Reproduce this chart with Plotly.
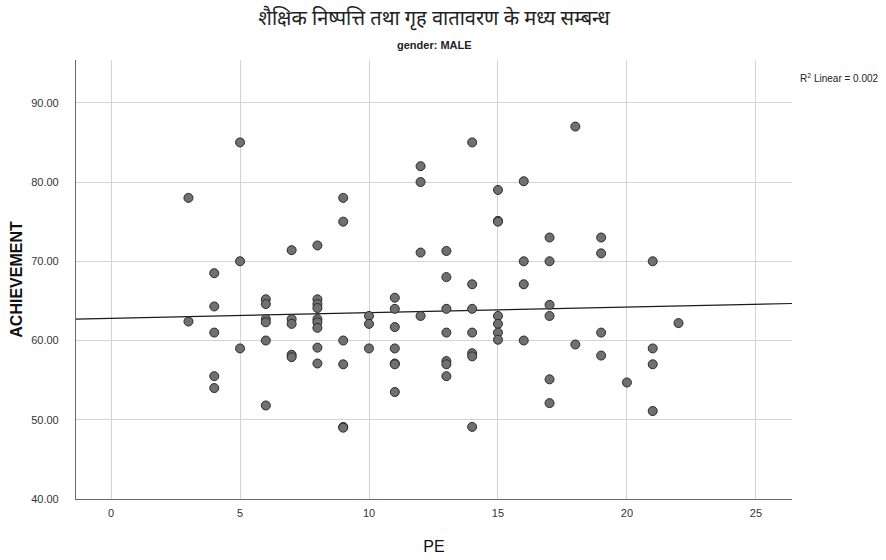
import plotly.graph_objects as go

title_text = "शैक्षिक निष्पत्ति तथा गृह वातावरण के मध्य सम्बन्ध"
subtitle_text = "gender: MALE"
x_title = "PE"
y_title = "ACHIEVEMENT"
r2_text = "R<sup>2</sup> Linear = 0.002"

pe = [3, 3,
      4, 4, 4, 4, 4,
      5, 5, 5,
      6, 6, 6, 6, 6, 6,
      7, 7, 7, 7, 7,
      8, 8, 8, 8, 8, 8, 8, 8, 8,
      9, 9, 9, 9, 9, 9,
      10, 10, 10,
      11, 11, 11, 11, 11, 11, 11,
      12, 12, 12, 12,
      13, 13, 13, 13, 13, 13, 13,
      14, 14, 14, 14, 14, 14, 14,
      15, 15, 15, 15, 15, 15, 15,
      16, 16, 16, 16,
      17, 17, 17, 17, 17, 17,
      18, 18,
      19, 19, 19, 19,
      20,
      21, 21, 21, 21,
      22]
achievement = [78.0, 62.4,
               68.5, 64.3, 61.0, 55.5, 54.0,
               85.0, 70.0, 59.0,
               65.2, 64.6, 62.7, 62.3, 60.0, 51.8,
               71.4, 62.7, 62.1, 58.2, 57.9,
               72.0, 65.2, 64.6, 64.1, 62.7, 62.3, 61.6, 59.1, 57.1,
               78.0, 75.0, 60.0, 57.0, 49.1, 49.0,
               63.1, 62.1, 59.0,
               65.4, 64.0, 61.7, 59.0, 57.1, 57.0, 53.5,
               82.0, 80.0, 71.1, 63.1,
               71.3, 68.0, 64.0, 61.0, 57.4, 57.0, 55.5,
               85.0, 67.1, 64.0, 61.0, 58.4, 58.0, 49.1,
               79.0, 75.1, 75.0, 63.1, 62.1, 61.0, 60.1,
               80.1, 70.0, 67.1, 60.0,
               73.0, 70.0, 64.5, 63.1, 55.1, 52.1,
               87.0, 59.5,
               73.0, 71.0, 61.0, 58.1,
               54.7,
               70.0, 59.0, 57.0, 51.1,
               62.2]

fit_intercept = 62.8
fit_slope = 0.071

x_ticks = [0, 5, 10, 15, 20, 25]
y_ticks = [40, 50, 60, 70, 80, 90]
y_tick_labels = ["40.00", "50.00", "60.00", "70.00", "80.00", "90.00"]

x_range = [-1.36, 26.4]
y_range = [40, 95.4]

fit_x = x_range
fit_y = [fit_intercept + fit_slope * v for v in fit_x]

narrow = "Liberation Sans Narrow, Arial Narrow, Liberation Sans, Arial, sans-serif"

fig = go.Figure()
fig.add_trace(go.Scatter(
    x=fit_x, y=fit_y, mode="lines",
    line=dict(color="#1a1a1a", width=1.2),
    hoverinfo="skip", showlegend=False,
))
fig.add_trace(go.Scatter(
    x=pe, y=achievement, mode="markers",
    marker=dict(size=9, color="#707070", line=dict(color="#2b2b2b", width=1)),
    showlegend=False,
))

fig.update_layout(
    width=886, height=560,
    margin=dict(l=76, r=94, t=60, b=61),
    paper_bgcolor="white", plot_bgcolor="white",
    title=dict(text=title_text, x=0.49, xanchor="center", y=0.968, yanchor="middle",
               font=dict(family="Noto Sans Devanagari, Noto Sans, sans-serif", size=20, color="#222")),
    annotations=[
        dict(text="<b>" + subtitle_text + "</b>", xref="paper", yref="paper",
             x=0.5, y=1.0, yshift=15, xanchor="center", yanchor="middle", showarrow=False,
             font=dict(family=narrow, size=11, color="#222")),
        dict(text=r2_text, xref="paper", yref="paper",
             x=1.0, y=0.96, xshift=6, xanchor="left", yanchor="middle", showarrow=False,
             font=dict(family=narrow, size=10, color="#222")),
    ],
    xaxis=dict(
        range=x_range, tickvals=x_ticks, ticktext=[str(t) for t in x_ticks],
        showgrid=True, gridcolor="#d3d3d3", gridwidth=1,
        showline=True, linecolor="#6a6a6a", linewidth=1.2,
        ticks="", zeroline=False, automargin=False,
        tickfont=dict(family=narrow, size=11, color="#333"),
        ticklabelstandoff=4,
        title=dict(text=x_title, font=dict(family=narrow, size=16, color="#111"), standoff=22),
    ),
    yaxis=dict(
        range=y_range, tickvals=y_ticks, ticktext=y_tick_labels,
        showgrid=True, gridcolor="#d3d3d3", gridwidth=1,
        showline=True, linecolor="#6a6a6a", linewidth=1.2,
        ticks="", zeroline=False, automargin=False,
        tickfont=dict(family=narrow, size=11, color="#333"),
        ticklabelstandoff=14,
        title=dict(text="<b>" + y_title + "</b>", font=dict(family="Liberation Sans, Arial, sans-serif", size=16, color="#111"), standoff=4),
    ),
)

fig.write_html("out.html", config={"displayModeBar": False},
               post_script="document.body.style.margin='0';")
